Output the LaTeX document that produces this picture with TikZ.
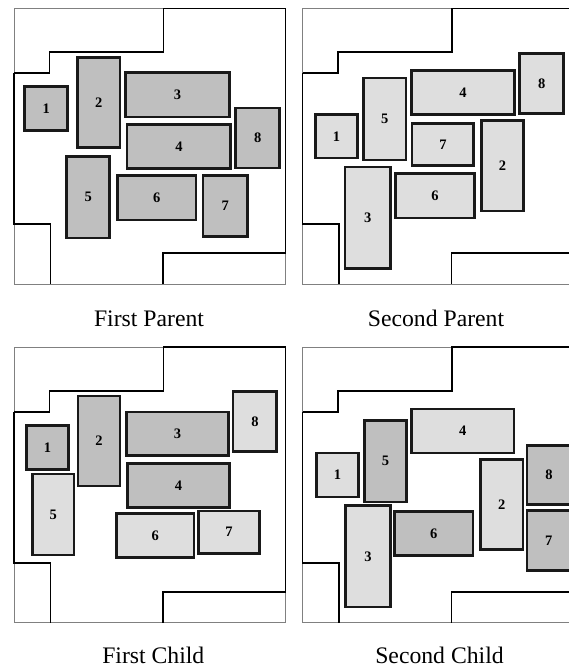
\documentclass[tikz,border=0pt]{standalone}
\usepackage{fontspec}
\setmainfont{Liberation Serif}
\begin{document}
\begin{tikzpicture}[x=1pt,y=-1pt,
  frame/.style={draw=black!50,line width=0.9pt},
  wall/.style={draw=black,line width=1.7pt,line join=miter},
  piece/.style n args={2}{draw=black!90,line width=2.6pt,
    minimum width=#1pt-2.6pt,minimum height=#2pt-2.6pt,inner sep=0pt,
    font=\fontsize{14.5}{15}\selectfont\bfseries},
  darkpc/.style={fill=black!25},
  lightpc/.style={fill=black!13},
  caption/.style={anchor=base,font=\fontsize{23.7}{26}\selectfont}]
\useasboundingbox (0,0) rectangle (569,668);

% board outline, drawn once per panel
\foreach \ox/\oy in {14/8.5, 302.5/8.5, 14/347.3, 302.5/347.3}{
  \begin{scope}[shift={(\ox,\oy)}]
    \draw[frame] (0,0) rectangle (271.5,275.5);
    \draw[wall] (0,64.5) -- (35.5,64.5) -- (35.5,43.5) -- (149.5,43.5) -- (149.5,0)
      -- (271.5,0) -- (271.5,244.5) -- (149,244.5) -- (149,275.5);
    \draw[wall] (0,64.5) -- (0,215.5) -- (36.5,215.5) -- (36.5,275.5);
  \end{scope}
}

% first parent
\node[piece={45.7}{46.7},darkpc]  (a1) at (46.2,108.4) {1};
\node[piece={45.3}{92.7},darkpc]  (a2) at (98.7,102.4) {2};
\node[piece={106.4}{47},darkpc]   (a3) at (177.5,94.8) {3};
\node[piece={106.3}{46.7},darkpc] (a4) at (178.9,146.7) {4};
\node[piece={45.7}{84},darkpc]    (a5) at (88.2,197.3) {5};
\node[piece={81.3}{47.3},darkpc]  (a6) at (156.7,197.7) {6};
\node[piece={47}{63.7},darkpc]    (a7) at (225.2,206.2) {7};
\node[piece={46.7}{62.6},darkpc]  (a8) at (257.7,138) {8};

% second parent
\node[piece={45}{46},lightpc]     (b1) at (336.5,136.3) {1};
\node[piece={45}{93},lightpc]     (b2) at (502.5,165.8) {2};
\node[piece={48}{104.3},lightpc]  (b3) at (367.7,217.9) {3};
\node[piece={106}{46.4},lightpc]  (b4) at (463,92.5) {4};
\node[piece={45}{84.6},lightpc]   (b5) at (384.8,119) {5};
\node[piece={81.4}{47.3},lightpc] (b6) at (435,195.7) {6};
\node[piece={64.3}{44.7},lightpc] (b7) at (442.9,144.4) {7};
\node[piece={46.7}{62.7},lightpc] (b8) at (541.7,83.4) {8};

% first child
\node[piece={44.7}{46.4},darkpc]  (c1) at (47.4,447.5) {1};
\node[piece={44.6}{92.6},darkpc]  (c2) at (99,441) {2};
\node[piece={105}{46.3},darkpc]   (c3) at (177.5,433.9) {3};
\node[piece={105}{46.4},darkpc]   (c4) at (178.5,485.5) {4};
\node[piece={44.3}{83.6},lightpc] (c5) at (53.2,514.5) {5};
\node[piece={80.3}{47},lightpc]   (c6) at (155.2,535.5) {6};
\node[piece={63.7}{45},lightpc]   (c7) at (228.9,532.2) {7};
\node[piece={46.3}{63},lightpc]   (c8) at (254.9,421.5) {8};

% second child
\node[piece={45}{46.6},lightpc]   (d1) at (337.5,475) {1};
\node[piece={45}{92.7},lightpc]   (d2) at (501.8,504.4) {2};
\node[piece={47.4}{104},lightpc]  (d3) at (368,556.3) {3};
\node[piece={105}{46.6},lightpc]  (d4) at (462.8,431) {4};
\node[piece={44.7}{84},darkpc]    (d5) at (385.4,461.3) {5};
\node[piece={81}{46.7},darkpc]    (d6) at (433.8,533.4) {6};
\node[piece={46}{62.4},darkpc]    (d7) at (548.7,540.5) {7};
\node[piece={46.7}{61.4},darkpc]  (d8) at (549,475) {8};

% captions
\node[caption] (t1) at (149,326) {First Parent};
\node[caption] (t2) at (436,326) {Second Parent};
\node[caption] (t3) at (153.3,663.3) {First Child};
\node[caption] (t4) at (439.5,663.3) {Second Child};
\end{tikzpicture}
\end{document}
